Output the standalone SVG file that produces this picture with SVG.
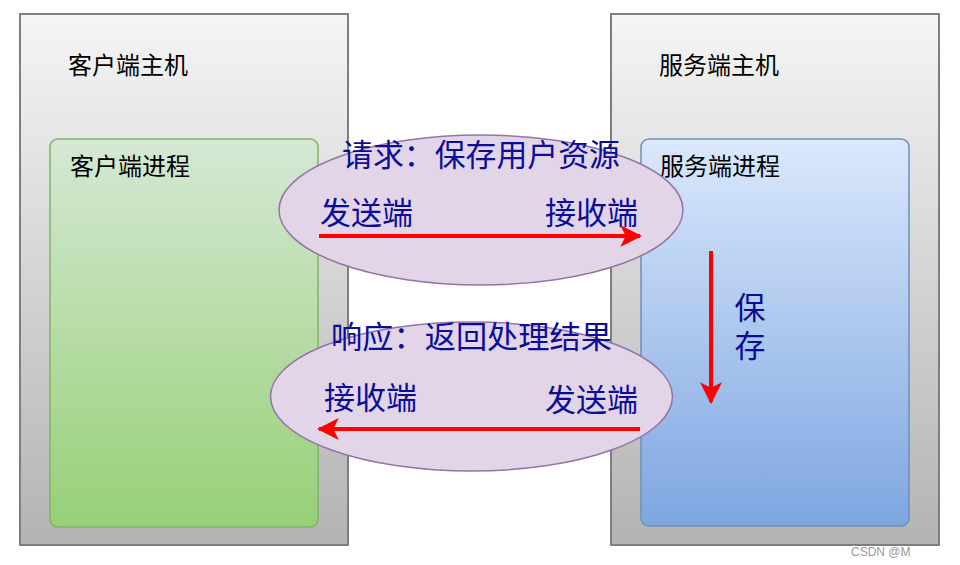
<svg xmlns="http://www.w3.org/2000/svg" width="960" height="565" viewBox="0 0 960 565">
<defs>
<linearGradient id="gHost" x1="0" y1="0" x2="0" y2="1"><stop offset="0" stop-color="#f5f5f5"/><stop offset="1" stop-color="#b3b3b3"/></linearGradient>
<linearGradient id="gGreen" x1="0" y1="0" x2="0" y2="1"><stop offset="0" stop-color="#d5e8d4"/><stop offset="1" stop-color="#97d077"/></linearGradient>
<linearGradient id="gBlue" x1="0" y1="0" x2="0" y2="1"><stop offset="0" stop-color="#dae8fc"/><stop offset="1" stop-color="#7ea6e0"/></linearGradient>
<marker id="ah" viewBox="0 0 10 10" refX="9" refY="5" markerWidth="5.5" markerHeight="5.5" orient="auto" markerUnits="strokeWidth"><path d="M0,0 L10,5 L0,10 L2.5,5 Z" fill="#ff0000"/></marker>
<style>
.host{fill:url(#gHost);stroke:#7f7f7f;stroke-width:2}
.lbl{font-family:"Noto Sans CJK SC","Noto Sans",sans-serif;font-size:24px;fill:#000}
.big{font-family:"Noto Sans CJK SC","Noto Sans",sans-serif;font-size:31px;fill:#0c0c9a}
.ell{fill:#e1d5e7;stroke:#9673a6;stroke-width:1.5}
.arr{stroke:#ff0000;stroke-width:4;fill:none;marker-end:url(#ah)}
</style>
</defs>
<rect width="960" height="565" fill="#ffffff"/>
<g id="client-host">
<rect class="host" x="20" y="14" width="328" height="531"/>
<text class="lbl" x="68" y="74">客户端主机</text>
</g>
<g id="client-process">
<rect x="50" y="139" width="268" height="388" rx="8" fill="url(#gGreen)" stroke="#82b366" stroke-width="1.5"/>
<text class="lbl" x="70" y="175">客户端进程</text>
</g>
<g id="server-host">
<rect class="host" x="611" y="14" width="328" height="531"/>
<text class="lbl" x="659" y="74">服务端主机</text>
</g>
<g id="server-process">
<rect x="641" y="139" width="268" height="387" rx="8" fill="url(#gBlue)" stroke="#6c8ebf" stroke-width="1.5"/>
<text class="lbl" x="660" y="175">服务端进程</text>
</g>
<g id="request">
<ellipse class="ell" cx="481" cy="210" rx="202" ry="75"/>
<text class="big" x="342" y="166" textLength="278" lengthAdjust="spacingAndGlyphs">请求：保存用户资源</text>
<text class="big" x="320" y="224">发送端</text>
<text class="big" x="545" y="224">接收端</text>
</g>
<g id="response">
<ellipse class="ell" cx="471.5" cy="396.5" rx="201" ry="74.5"/>
<text class="big" x="331" y="348" textLength="281" lengthAdjust="spacingAndGlyphs">响应：返回处理结果</text>
<text class="big" x="324" y="409">接收端</text>
<text class="big" x="545" y="411">发送端</text>
</g>
<g id="save-label">
<text class="big" x="750" y="292" style="writing-mode:vertical-rl;letter-spacing:7px">保存</text>
</g>
<g id="connectors">
<line class="arr" x1="319" y1="236" x2="640" y2="236"/>
<line class="arr" x1="640" y1="429" x2="319" y2="429"/>
<line class="arr" x1="711" y1="251" x2="711" y2="402"/>
</g>
<text x="851" y="556" font-family="Liberation Sans,sans-serif" font-size="12" fill="#9a9a9a">CSDN @M</text>
</svg>
